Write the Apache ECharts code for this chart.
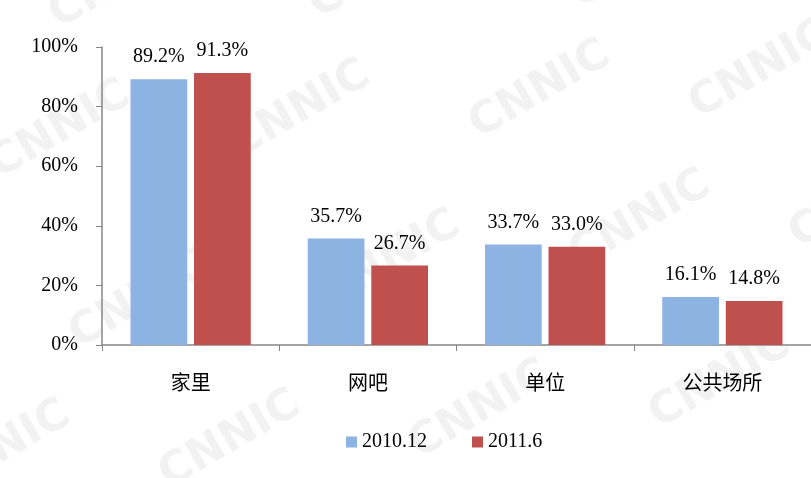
<!DOCTYPE html>
<html>
<head>
<meta charset="utf-8">
<script src="https://cdn.jsdelivr.net/npm/echarts@6/dist/echarts.min.js"></script>
<style>
  html, body { margin: 0; padding: 0; background: #fff; }
  #main { width: 811px; height: 478px; }
</style>
</head>
<body>
<div id="main"></div>
<script>
var categories = ['家里', '网吧', '单位', '公共场所'];
var seriesNames = ['2010.12', '2011.6'];
var dec2010 = [89.2, 35.7, 33.7, 16.1];
var jun2011 = [91.3, 26.7, 33.0, 14.8];
var yTicks = [0, 20, 40, 60, 80, 100];

var font = '"Liberation Serif", "Times New Roman", "Noto Sans CJK SC", serif';

// faint CNNIC watermark grid
var marks = [];
var spots = [[60, 130], [300, 110], [540, 90], [760, 70], [140, 300], [390, 260],
             [640, 220], [860, 200], [230, 440], [480, 410], [720, 380], [0, 450],
             [120, -20], [380, -30], [640, -40]];
spots.forEach(function (p) {
    marks.push({
        type: 'text', x: p[0], y: p[1], rotation: Math.PI / 6, silent: true, z: -1,
        style: { text: 'CNNIC', fill: '#f2f2f2', fontSize: 44, fontWeight: 'bold',
                 fontFamily: 'DejaVu Sans', align: 'center', verticalAlign: 'middle' }
    });
});

var myChart = echarts.init(document.getElementById('main'));
var option = {
    backgroundColor: '#fff',
    animation: false,
    textStyle: { fontFamily: font, color: '#000' },
    graphic: marks,
    grid: { left: 102, right: -4, top: 47, bottom: 133, containLabel: false },
    legend: {
        data: seriesNames,
        bottom: 21,
        left: 341,
        itemWidth: 11,
        itemHeight: 11,
        itemGap: 45,
        icon: 'rect',
        textStyle: { fontFamily: font, fontSize: 20, color: '#000' }
    },
    xAxis: {
        type: 'category',
        data: categories,
        axisLine: { lineStyle: { color: '#868686', width: 1.5 } },
        axisTick: { show: true, length: 6, lineStyle: { color: '#868686' } },
        axisLabel: { fontFamily: font, fontSize: 20, color: '#000', margin: 30 }
    },
    yAxis: {
        type: 'value',
        min: 0,
        max: 100,
        interval: 20,
        splitLine: { show: false },
        axisLine: { show: true, lineStyle: { color: '#868686', width: 1.5 } },
        axisTick: { show: true, length: 6, lineStyle: { color: '#868686' } },
        axisLabel: {
            fontFamily: font, fontSize: 20, color: '#000', margin: 24,
            formatter: function (v) { return yTicks.indexOf(v) >= 0 ? v + '%' : ''; }
        }
    },
    series: [{
        name: seriesNames[0],
        type: 'bar',
        data: dec2010,
        barWidth: '32%',
        barGap: '12%',
        itemStyle: { color: '#8DB3E2' },
        label: {
            show: true, position: 'top', distance: 12,
            fontFamily: font, fontSize: 20, color: '#000',
            formatter: function (p) { return p.value.toFixed(1) + '%'; }
        }
    }, {
        name: seriesNames[1],
        type: 'bar',
        data: jun2011,
        barWidth: '32%',
        itemStyle: { color: '#C0504D' },
        label: {
            show: true, position: 'top', distance: 12,
            fontFamily: font, fontSize: 20, color: '#000',
            formatter: function (p) { return p.value.toFixed(1) + '%'; }
        }
    }]
};
myChart.setOption(option);
</script>
</body>
</html>
